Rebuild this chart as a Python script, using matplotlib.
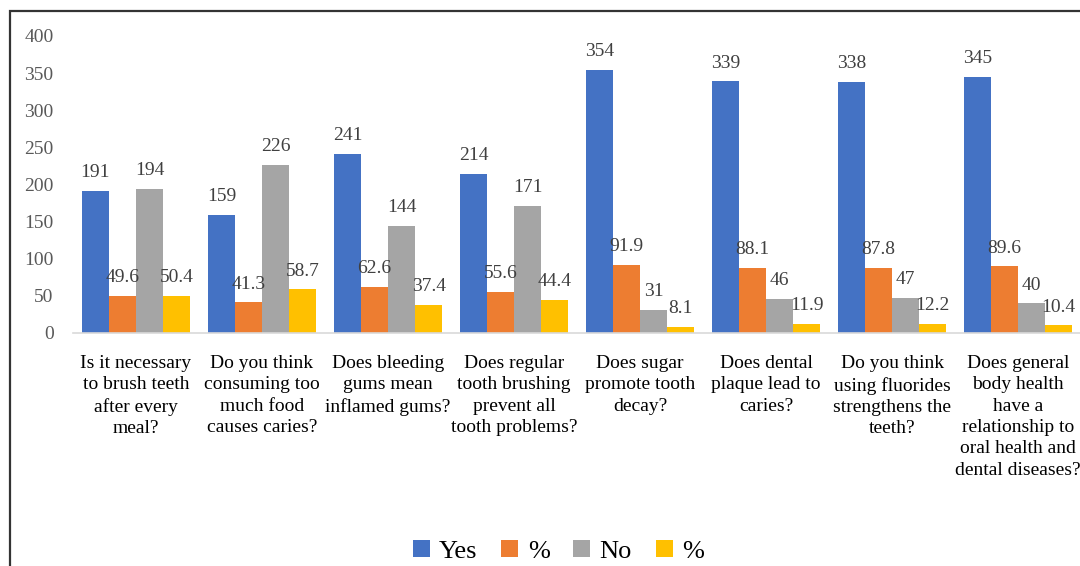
import matplotlib
matplotlib.use("Agg")
import matplotlib.pyplot as plt
import numpy as np
from matplotlib.patches import Rectangle

categories = [
    "Is it necessary\nto brush teeth\nafter every\nmeal?",
    "Do you think\nconsuming too\nmuch food\ncauses caries?",
    "Does bleeding\ngums mean\ninflamed gums?",
    "Does regular\ntooth brushing\nprevent all\ntooth problems?",
    "Does sugar\npromote tooth\ndecay?",
    "Does dental\nplaque lead to\ncaries?",
    "Do you think\nusing fluorides\nstrengthens the\nteeth?",
    "Does general\nbody health\nhave a\nrelationship to\noral health and\ndental diseases?",
]
yes_vals = [191, 159, 241, 214, 354, 339, 338, 345]
yes_pct = [49.6, 41.3, 62.6, 55.6, 91.9, 88.1, 87.8, 89.6]
no_vals = [194, 226, 144, 171, 31, 46, 47, 40]
no_pct = [50.4, 58.7, 37.4, 44.4, 8.1, 11.9, 12.2, 10.4]
series_names = ["Yes", "%", "No", "%"]
colors = ["#4472C4", "#ED7D31", "#A5A5A5", "#FFC000"]
yticks = [0, 50, 100, 150, 200, 250, 300, 350, 400]

plt.rcParams['font.family'] = ['Liberation Serif', 'DejaVu Serif']

fig = plt.figure(figsize=(10.8, 5.66), dpi=100)
ax = fig.add_axes([0.0676, 0.4117, 0.9334, 0.5247])

x = np.arange(len(categories))
w = 0.215
series = [yes_vals, yes_pct, no_vals, no_pct]
for i, (vals, name, c) in enumerate(zip(series, series_names, colors)):
    pos = x + (i - 1.5) * w
    bars = ax.bar(pos, vals, width=w, color=c, label=name, zorder=2)
    labels = [f"{v:g}" for v in vals]
    ax.bar_label(bars, labels=labels, padding=7, fontsize=14, color="#404040")

ax.set_xlim(-0.5, len(categories) - 0.5)
ax.set_ylim(0, 400)
ax.set_yticks(yticks)
ax.set_xticks(x)
ax.set_xticklabels(categories, fontsize=14, linespacing=1.33, color="#000000")
ax.tick_params(axis='y', length=0, labelsize=14, labelcolor="#595959", pad=14)
ax.tick_params(axis='x', length=0, pad=16)
for s in ['top', 'right', 'left']:
    ax.spines[s].set_visible(False)
ax.spines['bottom'].set_color("#D9D9D9")
ax.spines['bottom'].set_linewidth(1.2)

leg = fig.legend(loc='center', bbox_to_anchor=(0.517, 0.026), ncol=4, frameon=False,
                 fontsize=19, handlelength=0.65, handleheight=0.65, columnspacing=0.9,
                 handletextpad=0.35)

fig.patches.append(Rectangle((10/1080, -0.1), 1.2, 1 - 11/566 + 0.1, transform=fig.transFigure,
                             fill=False, edgecolor="#333333", linewidth=1.6, zorder=10))

fig.savefig("out.png", dpi=100)
